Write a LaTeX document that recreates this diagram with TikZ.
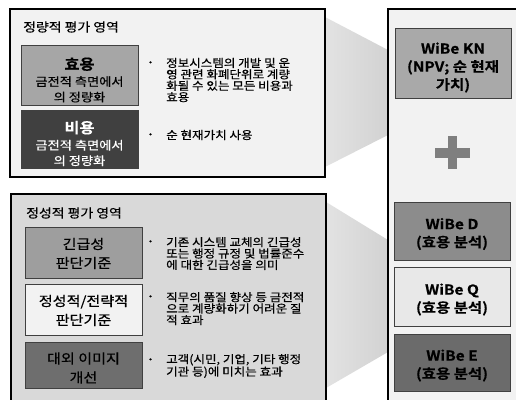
\documentclass[tikz,border=0pt]{standalone}
\usepackage{fontspec}
\setmainfont{Noto Sans CJK KR}[BoldFont={Noto Sans CJK KR Bold}, FakeStretch=1.12, FakeBold=0.5]
\definecolor{topbg}{HTML}{F2F2F2}
\definecolor{botbg}{HTML}{D9D9D9}
\definecolor{midgray}{HTML}{A6A6A6}
\definecolor{darkbox}{HTML}{404040}
\definecolor{urgbox}{HTML}{9E9E9E}
\definecolor{lightbox}{HTML}{F2F2F2}
\definecolor{imgbox}{HTML}{6E6E6E}
\definecolor{knbox}{HTML}{A9A9A9}
\definecolor{dbox}{HTML}{8C8C8C}
\definecolor{qbox}{HTML}{E8E8E8}
\definecolor{ebox}{HTML}{6B6B6B}
\definecolor{plusgray}{HTML}{7F7F7F}
\definecolor{wedgeL}{HTML}{E4E4E4}
\definecolor{wedgeR}{HTML}{D2D2D2}
\tikzset{
  outer/.style={draw=black, line width=1.2pt},
  ibox/.style={draw=black!75, line width=0.7pt, minimum width=117pt, inner sep=0pt},
  boxtext/.style={inner sep=0pt, align=center},
  topboxfont/.style={font=\fontsize{11.8}{15.5}\selectfont},
  botboxfont/.style={font=\fontsize{13.5}{19}\selectfont},
  body/.style={anchor=west, inner sep=0pt, align=left, font=\fontsize{11.2}{11.4}\selectfont},
  bul/.style={inner sep=0pt, font=\fontsize{8}{8}\selectfont},
  ttl/.style={anchor=west, inner sep=0pt, font=\fontsize{12.4}{14}\selectfont},
  wibe/.style={draw=black!75, line width=0.7pt, minimum width=116pt, inner sep=0pt},
  wibetext/.style={inner sep=0pt, align=center, font=\bfseries\fontsize{13.8}{18}\selectfont},
}
\begin{document}
\begin{tikzpicture}[x=1pt,y=-1pt]
\useasboundingbox (0,0) rectangle (516,399);
\clip (0,0) rectangle (516,399);
\fill[white] (0,0) rectangle (516,399);
% wedges
\shade[left color=wedgeL, right color=wedgeR] (320,14.4) -- (388,50) -- (388,135) -- (320,169.5) -- cycle;
\shade[left color=wedgeL, right color=wedgeR] (320,198.3) -- (388,240) -- (388,352) -- (320,391.5) -- cycle;
% outer boxes
\path[outer, fill=topbg] (10,9) rectangle (325,177);
\path[outer, fill=botbg] (11,194) rectangle (326,420);
\path[outer, fill=topbg] (388,9) rectangle (540,420);
% titles
\node[ttl] (qtitle) at (23,27) {정량적 평가 영역};
\node[ttl] (ltitle) at (26,213) {정성적 평가 영역};
% quantitative boxes
\node[ibox, fill=midgray, minimum height=60pt] (hy) at (79.5,75) {};
\node[boxtext, topboxfont] (hyt) at (79.5,80)
  {{\bfseries\fontsize{14.5}{15}\selectfont 효용}\\[1pt]금전적 측면에서\\의 정량화};
\node[ibox, fill=darkbox, minimum height=58pt] (by) at (79.5,139) {};
\node[boxtext, topboxfont, text=white] (byt) at (79.5,143.5)
  {{\bfseries\fontsize{14.5}{15}\selectfont 비용}\\[1pt]금전적 측면에서\\의 정량화};
% qualitative boxes
\node[ibox, fill=urgbox, minimum height=51pt] (ug) at (83.5,252.5) {};
\node[boxtext, botboxfont] (ugt) at (83.5,253.5) {긴급성\\판단기준};
\node[ibox, fill=lightbox, minimum height=51pt] (st) at (83.5,309.5) {};
\node[boxtext, botboxfont] (stt) at (83.5,310.5) {정성적/전략적\\판단기준};
\node[ibox, fill=imgbox, minimum height=46pt] (im) at (83.5,365) {};
\node[boxtext, botboxfont] (imt) at (83.5,368) {대외 이미지\\개선};
% bullets and descriptions
\node[bul] (b1) at (150.5,63) {•};
\node[body] (t1) at (166,80) {정보시스템의 개발 및 운\\영 관련 화폐단위로 계량\\화될 수 있는 모든 비용과\\효용};
\node[bul] (b2) at (150.5,135) {•};
\node[body] (t2) at (166,135) {순 현재가치 사용};
\node[bul] (b3) at (150.5,242) {•};
\node[body] (t3) at (166,253.5) {기존 시스템 교체의 긴급성\\또는 행정 규정 및 법률준수\\에 대한 긴급성을 의미};
\node[bul] (b4) at (150.5,297) {•};
\node[body] (t4) at (166,308.5) {직무의 품질 향상 등 금전적\\으로 계량화하기 어려운 질\\적 효과};
\node[bul] (b5) at (150.5,360) {•};
\node[body] (t5) at (166,366) {고객(시민, 기업, 기타 행정\\기관 등)에 미치는 효과};
% WiBe boxes
\node[wibe, fill=knbox, minimum height=70pt] (kn) at (453,63) {};
\node[wibetext] (knt) at (453,67.5) {WiBe KN\\(NPV; 순 현재\\가치)};
\node[wibe, fill=dbox, minimum height=58pt] (wd) at (452,231) {};
\node[wibetext] (wdt) at (452,234) {WiBe D\\(효용 분석)};
\node[wibe, fill=qbox, minimum height=59pt] (wq) at (452,296.5) {};
\node[wibetext] (wqt) at (452,299.5) {WiBe Q\\(효용 분석)};
\node[wibe, fill=ebox, minimum height=57pt] (we) at (452,362.5) {};
\node[wibetext] (wet) at (452,365.5) {WiBe E\\(효용 분석)};
% plus sign
\fill[plusgray] (435,148) rectangle (470,158);
\fill[plusgray] (448,136) rectangle (457,169);
\end{tikzpicture}
\end{document}
